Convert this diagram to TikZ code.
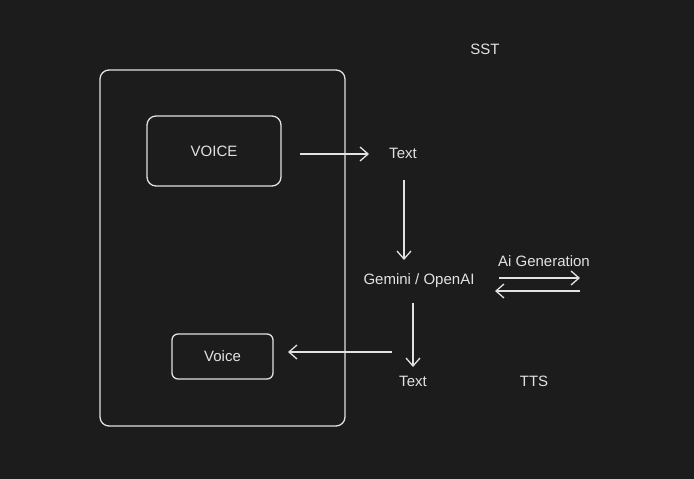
\documentclass[tikz,border=0pt]{standalone}
\usepackage{fontspec}
\setmainfont{Liberation Sans}
\usetikzlibrary{arrows.meta}
\definecolor{bg}{HTML}{1C1C1C}
\definecolor{ink}{HTML}{E2E2E2}
\begin{document}
\begin{tikzpicture}[x=1pt,y=-1pt,
  line/.style={draw=ink,line width=1.3pt},
  arr/.style={line,-{Straight Barb[length=8pt,width=14pt,line width=1.3pt]}},
  lbl/.style={text=ink,font=\fontsize{15}{17}\selectfont,inner sep=0pt},
  box/.style={line,rounded corners=9pt}]
\fill[bg] (0,0) rectangle (694,479);
\useasboundingbox (0,0) rectangle (694,479);
\draw[box] (100,70) rectangle (345,426);
\node[box,minimum width=134pt,minimum height=70pt,lbl,draw=ink] (voice) at (214,151) {VOICE};
\node[box,minimum width=101pt,minimum height=45pt,lbl,draw=ink,rounded corners=6pt] (voice2) at (222.5,356.5) {Voice};
\node[lbl] (text1) at (403,153) {Text};
\node[lbl] (gem) at (419,281) {Gemini / OpenAI};
\node[lbl] (aig) at (544,261) {Ai Generation};
\node[lbl] (text2) at (413,381) {Text};
\node[lbl] (tts) at (534,381) {TTS};
\node[lbl] (sst) at (485,49) {SST};
\coordinate (a1s) at (300,154);
\coordinate (a1e) at (369,154);
\coordinate (a2s) at (404,180);
\coordinate (a2e) at (404,260);
\coordinate (ar1) at (499,278);
\coordinate (ar2) at (580,278);
\coordinate (al1) at (580,291);
\coordinate (al2) at (495,291);
\coordinate (a3s) at (413,303);
\coordinate (a3e) at (413,367);
\coordinate (a4s) at (392,352);
\coordinate (a4e) at (288,352);
\draw[arr] (a1s) -- (a1e);
\draw[arr] (a2s) -- (a2e);
\draw[arr] (ar1) -- (ar2);
\draw[arr] (al1) -- (al2);
\draw[arr] (a3s) -- (a3e);
\draw[arr] (a4s) -- (a4e);
\end{tikzpicture}
\end{document}
